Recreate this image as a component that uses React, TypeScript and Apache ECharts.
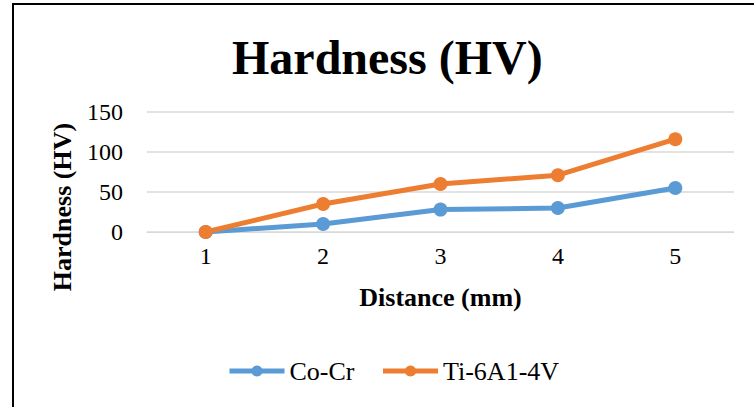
import React, { useEffect, useRef } from "react";
import * as echarts from "echarts";

const categories = ["1", "2", "3", "4", "5"];
const coCr = [0, 10, 28, 30, 55];
const ti6al4v = [0, 35, 60, 71, 116];
const seriesNames = ["Co-Cr", "Ti-6A1-4V"];
const FONT = "Liberation Serif";

const tickRich = {
  t: { fontFamily: FONT, fontSize: 24, fontWeight: "normal", color: "#000" },
};

export default function App() {
  const ref = useRef<HTMLDivElement>(null);
  useEffect(() => {
    if (!ref.current) return;
    const chart = echarts.init(ref.current, null, { renderer: "svg" });
    chart.setOption({
      animation: false,
      backgroundColor: "#ffffff",
      textStyle: { fontFamily: FONT },
      graphic: [
        {
          type: "rect",
          shape: { x: 13, y: 4, width: 800, height: 450 },
          style: { fill: "none", stroke: "#000", lineWidth: 2 },
          silent: true,
        },
      ],
      title: {
        text: "Hardness (HV)",
        left: 227,
        top: 28,
        textStyle: { fontFamily: FONT, fontSize: 48, fontWeight: "bold", color: "#000" },
      },
      legend: {
        data: seriesNames,
        left: 227,
        top: 358,
        padding: 0,
        itemWidth: 55,
        itemHeight: 14,
        itemGap: 26,
        lineStyle: { width: 5 },
        textStyle: { fontFamily: FONT, fontSize: 26, color: "#000" },
      },
      grid: { left: 147, right: 20, top: 112, bottom: 175, containLabel: false },
      xAxis: {
        type: "category",
        data: categories,
        boundaryGap: true,
        name: "Distance (mm)",
        nameLocation: "middle",
        nameGap: 52,
        nameTextStyle: { fontFamily: FONT, fontSize: 26, fontWeight: "bold", color: "#000" },
        axisLine: { show: true, lineStyle: { color: "#D9D9D9", width: 1 } },
        axisTick: { show: false },
        axisLabel: {
          show: true,
          fontFamily: FONT,
          fontSize: 24,
          color: "#000",
          margin: 12,
          formatter: "{t|{value}}",
          rich: tickRich,
        },
      },
      yAxis: {
        type: "value",
        min: 0,
        max: 150,
        interval: 50,
        name: "Hardness (HV)",
        nameLocation: "middle",
        nameGap: 72,
        nameTextStyle: {
          fontFamily: FONT,
          fontSize: 26,
          fontWeight: "bold",
          color: "#000",
          padding: [0, 70, 0, 0],
        },
        axisLine: { show: false },
        axisTick: { show: false },
        axisLabel: {
          show: true,
          fontFamily: FONT,
          fontSize: 24,
          color: "#000",
          margin: 24,
          formatter: "{t|{value}}",
          rich: tickRich,
        },
        splitLine: { lineStyle: { color: "#D9D9D9", width: 1.5 } },
      },
      series: [
        {
          name: seriesNames[0],
          type: "line",
          data: coCr,
          symbol: "circle",
          symbolSize: 14,
          lineStyle: { color: "#5B9BD5", width: 5 },
          itemStyle: { color: "#5B9BD5" },
        },
        {
          name: seriesNames[1],
          type: "line",
          data: ti6al4v,
          symbol: "circle",
          symbolSize: 14,
          lineStyle: { color: "#ED7D31", width: 5 },
          itemStyle: { color: "#ED7D31" },
        },
      ],
    });
    return () => chart.dispose();
  }, []);
  return (
    <div
      ref={ref}
      style={{ position: "fixed", left: 0, top: 0, width: 754, height: 407 }}
    />
  );
}
